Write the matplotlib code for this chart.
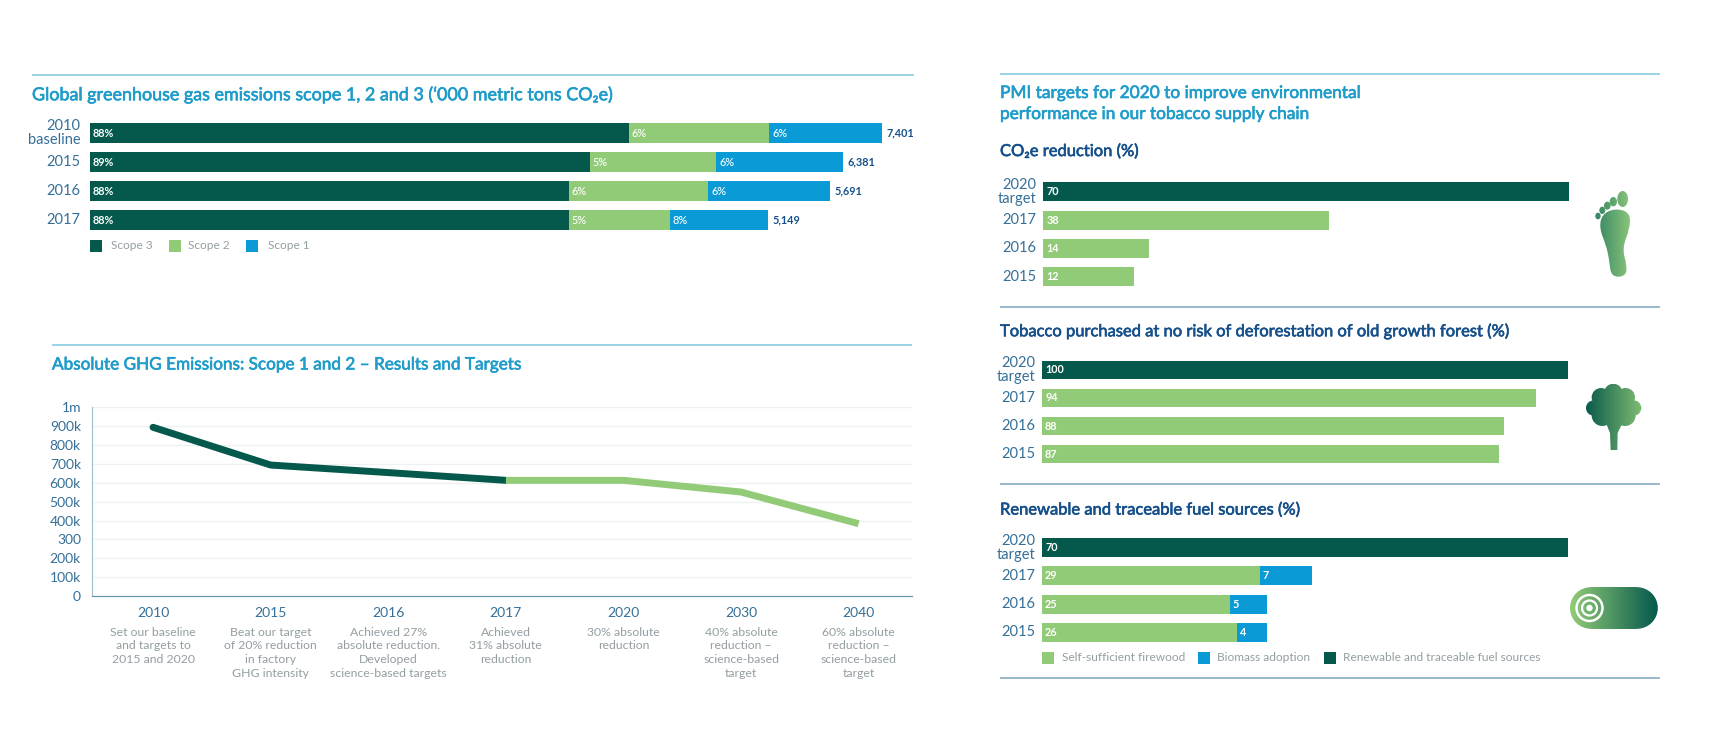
import numpy as np
import matplotlib
matplotlib.use('Agg')
import matplotlib.pyplot as plt
import matplotlib.patheffects as pe
from matplotlib.path import Path
from matplotlib.patches import PathPatch, Rectangle, Circle
from matplotlib.colors import LinearSegmentedColormap
from matplotlib.transforms import ScaledTranslation

W, H = 1732, 734
plt.rcParams['font.family'] = ['Lato', 'DejaVu Sans']

DARK = '#04594c'
GREEN = '#92cb78'
BLUE = '#0a9bd6'
TITLE = '#1f9cc9'
NAVY = '#16508a'
CAT = '#356f98'
GREY = '#939fa3'
RULE = '#7fc6e0'
RULE2 = '#7ea6c0'

# scope bars: lengths as drawn in the picture (chart is not to scale with totals)
scope_years = ['2010\nbaseline', '2015', '2016', '2017']
scope3_len = [5035, 4669, 4475, 4475]
scope2_len = [1314, 1186, 1303, 942]
scope1_len = [1053, 1182, 1142, 920]
scope3_pct = ['88%', '89%', '88%', '88%']
scope2_pct = ['6%', '5%', '6%', '5%']
scope1_pct = ['6%', '6%', '6%', '8%']
scope_totals = ['7,401', '6,381', '5,691', '5,149']

ghg_years = ['2010', '2015', '2016', '2017', '2020', '2030', '2040']
ghg_values = [894000, 694000, 654000, 613000, 613000, 551000, 383000]
ghg_ticks = [0, 100000, 200000, 300000, 400000, 500000, 600000, 700000, 800000, 900000, 1000000]
ghg_tick_labels = ['0', '100k', '200k', '300', '400k', '500k', '600k', '700k', '800k', '900k', '1m']
ghg_notes = ['Set our baseline\nand targets to\n2015 and 2020',
             'Beat our target\nof 20% reduction\nin factory\nGHG intensity',
             'Achieved 27%\nabsolute reduction.\nDeveloped\nscience-based targets',
             'Achieved\n31% absolute\nreduction',
             '30% absolute\nreduction',
             '40% absolute\nreduction \u2013\nscience-based\ntarget',
             '60% absolute\nreduction \u2013\nscience-based\ntarget']

target_years = ['2020\ntarget', '2017', '2016', '2015']
co2_values = [70, 38, 14, 12]
forest_values = [100, 94, 88, 87]
fuel_target = [70, 0, 0, 0]
fuel_firewood = [0, 29, 25, 26]
fuel_biomass = [0, 7, 5, 4]

fig = plt.figure(figsize=(W / 100, H / 100), dpi=100, facecolor='white')

# overlay in pixel coordinates, for rules, headings, legends and icons
page = fig.add_axes([0, 0, 1, 1], zorder=0)
page.set_xlim(0, W)
page.set_ylim(H, 0)
page.axis('off')


def px_axes(x0, y0, x1, y1):
    ax = fig.add_axes([x0 / W, 1 - y1 / H, (x1 - x0) / W, (y1 - y0) / H], zorder=2)
    ax.patch.set_alpha(0)
    return ax


def rule(x0, x1, y, color=RULE):
    page.plot([x0, x1], [y, y], color=color, lw=1.1, solid_capstyle='butt')


def heading(x, y, text, color, size):
    # the source face sits between Lato regular and bold, so thicken regular a little
    page.text(x, y, text, color=color, fontsize=size, va='center',
              path_effects=[pe.withStroke(linewidth=0.45, foreground=color)])


def bar_axes(x0, x1, first_center, pitch, xmax, labels, label_pad=5):
    top = first_center - pitch / 2
    ax = px_axes(x0, top, x1, top + pitch * len(labels))
    ax.set_xlim(0, xmax)
    ax.set_ylim(len(labels) - 0.5, -0.5)
    ax.set_yticks(range(len(labels)))
    ax.set_yticklabels(labels, fontsize=10.5, color=CAT, linespacing=1.0)
    ax.tick_params(axis='y', length=0, pad=label_pad)
    ax.set_xticks([])
    up = ScaledTranslation(0, 1.5 / 100, fig.dpi_scale_trans)
    for lab in ax.get_yticklabels():
        lab.set_transform(lab.get_transform() + up)
    for s in ax.spines.values():
        s.set_visible(False)
    return ax


def bar_labels(ax, bars, labels, weight='bold', size=7.8):
    for b, t in zip(bars, labels):
        if b.get_width() == 0:
            continue
        ax.annotate(t, (b.get_x(), b.get_y() + b.get_height() / 2), xytext=(2.2, 0),
                    textcoords='offset points', va='center', ha='left',
                    color='white', fontsize=size, fontweight=weight)


def legend_row(items, y):
    for x, x_text, color, label in items:
        page.add_patch(Rectangle((x, y - 6), 12, 12, facecolor=color, edgecolor='none'))
        page.text(x_text, y, label, color=GREY, fontsize=8.6, va='center', ha='left')


def gradient_fill(path, extent, colors):
    cmap = LinearSegmentedColormap.from_list('g', colors)
    img = page.imshow(np.linspace(0, 1, 256).reshape(1, -1), cmap=cmap, extent=extent,
                      aspect='auto', interpolation='bilinear', zorder=1)
    img.set_clip_path(PathPatch(path, transform=page.transData))


def smooth_path(pts):
    pts = np.array(pts, dtype=float)
    mids = (pts + np.roll(pts, -1, axis=0)) / 2
    verts = [mids[-1]]
    codes = [Path.MOVETO]
    for p, m in zip(pts, mids):
        verts += [p, m]
        codes += [Path.CURVE3, Path.CURVE3]
    return Path(verts, codes)


def ellipse_path(cx, cy, rx, ry):
    t = Path.unit_circle()
    return Path(t.vertices * [rx, ry] + [cx, cy], t.codes)


# ---------- headings and rules ----------
rule(32, 914, 75)
heading(32, 95, 'Global greenhouse gas emissions scope 1, 2 and 3 (\u2018000 metric tons CO\u2082e)', TITLE, 12.9)
rule(52, 912, 345)
heading(52, 364.5, 'Absolute GHG Emissions: Scope 1 and 2 \u2013 Results and Targets', TITLE, 12.35)
rule(1000, 1660, 74)
heading(1000, 93, 'PMI targets for 2020 to improve environmental', TITLE, 12.45)
heading(1000, 114, 'performance in our tobacco supply chain', TITLE, 12.45)
heading(1000, 151, 'CO\u2082e reduction (%)', NAVY, 11.9)
rule(1000, 1660, 306.7, RULE2)
heading(1000, 331, 'Tobacco purchased at no risk of deforestation of old growth forest (%)', NAVY, 11.9)
rule(1000, 1660, 484, RULE2)
heading(1000, 509.5, 'Renewable and traceable fuel sources (%)', NAVY, 11.9)
rule(1000, 1660, 678, RULE2)

# ---------- scope bars ----------
ax = bar_axes(90, 882, 133, 29, sum([5035, 1314, 1053]), scope_years, label_pad=7)
left = np.zeros(4)
for vals, color, pct in [(scope3_len, DARK, scope3_pct), (scope2_len, GREEN, scope2_pct), (scope1_len, BLUE, scope1_pct)]:
    bars = ax.barh(range(4), vals, left=left, height=19.5 / 29, color=color)
    bar_labels(ax, bars, pct, weight='medium' if color != DARK else 'bold')
    left += np.array(vals)
for i, t in enumerate(scope_totals):
    ax.annotate(t, (left[i], i), xytext=(3, 0), textcoords='offset points', va='center',
                color=NAVY, fontsize=7.8, fontweight='bold')
legend_row([(90, 111, DARK, 'Scope 3'), (169, 188.5, GREEN, 'Scope 2'), (246, 267.5, BLUE, 'Scope 1')], 245.5)

# ---------- GHG line ----------
ax = px_axes(92, 407.3, 911.6, 596)
x = np.arange(len(ghg_years))
ax.set_xlim(-0.519, 6.45)
ax.set_ylim(0, 1000000)
ax.set_yticks(ghg_ticks)
ax.set_yticklabels(ghg_tick_labels, fontsize=10, color=CAT)
ax.set_xticks(x)
ax.set_xticklabels(ghg_years, fontsize=10, color=CAT)
ax.tick_params(axis='y', length=0, pad=8)
ax.tick_params(axis='x', length=0, pad=8)
ax.grid(axis='y', color='#edf1f2', lw=1)
ax.set_axisbelow(True)
for s in ['top', 'right']:
    ax.spines[s].set_visible(False)
ax.spines['left'].set_color('#9dbccd')
ax.spines['bottom'].set_color('#5f8fae')
ax.plot(x[:4], ghg_values[:4], color=DARK, lw=5, solid_capstyle='round', solid_joinstyle='round')
ax.plot(x[3:], ghg_values[3:], color=GREEN, lw=5, solid_capstyle='butt', solid_joinstyle='round')
for xi, note in zip(x, ghg_notes):
    ax.annotate(note, (xi, 0), xytext=(0, -22), textcoords='offset points', ha='center', va='top',
                color=GREY, fontsize=8.8, linespacing=1.32)

# ---------- CO2e ----------
ax = bar_axes(1043.4, 1569.3, 191.8, 28.3, 70, target_years)
colors = [DARK, GREEN, GREEN, GREEN]
bars = ax.barh(range(4), co2_values, height=19 / 28.3, color=colors)
bar_labels(ax, bars, [str(v) for v in co2_values])

# ---------- forest ----------
ax = bar_axes(1042, 1567.5, 369.8, 28.15, 100, target_years)
bars = ax.barh(range(4), forest_values, height=18 / 28.15, color=colors)
bar_labels(ax, bars, [str(v) for v in forest_values])

# ---------- fuel ----------
ax = bar_axes(1042, 1567.5, 547.8, 28.2, 70, target_years)
bars = ax.barh(range(4), fuel_target, height=19 / 28.2, color=DARK)
bar_labels(ax, bars, [str(v) for v in fuel_target])
bars = ax.barh(range(4), fuel_firewood, height=19 / 28.2, color=GREEN)
bar_labels(ax, bars, [str(v) for v in fuel_firewood])
bars = ax.barh(range(4), fuel_biomass, left=fuel_firewood, height=19 / 28.2, color=BLUE)
bar_labels(ax, bars, [str(v) for v in fuel_biomass])
legend_row([(1042, 1061.5, GREEN, 'Self-sufficient firewood'),
            (1197.5, 1217, BLUE, 'Biomass adoption'),
            (1323.5, 1343, DARK, 'Renewable and traceable fuel sources')], 657.5)

# ---------- icons ----------
foot_ext = (1590, 1632, 284, 186)
foot_cols = ['#267a5e', '#8fc97c']


def foot(xz, yz):
    return 1580 + xz / 3, 185 + yz / 3


sole = smooth_path([foot(*p) for p in [(105, 70), (150, 82), (150, 130), (126, 190), (142, 245), (135, 275),
                                       (93, 275), (88, 225), (78, 180), (58, 130), (66, 88)]])
gradient_fill(sole, foot_ext, foot_cols)
for xz, yz, rx, ry in [(128, 42, 16, 24), (100, 50, 11, 14), (82, 62, 10, 12), (67, 76, 9, 11), (54, 93, 8, 10)]:
    cx, cy = foot(xz, yz)
    gradient_fill(ellipse_path(cx, cy, rx / 3, ry / 3), foot_ext, foot_cols)

tree_ext = (1586, 1642, 450, 384)
tree_cols = ['#0b5b4b', '#7fbc72']


def tree(xz, yz):
    return 1575 + xz / 3, 378 + yz / 3


for xz, yz, r in [(115, 44, 27), (78, 58, 28), (152, 58, 28), (56, 90, 23), (176, 90, 23),
                  (82, 112, 32), (150, 112, 32), (115, 85, 58)]:
    cx, cy = tree(xz, yz)
    gradient_fill(ellipse_path(cx, cy, r / 3, r / 3), tree_ext, tree_cols)
gradient_fill(Path([tree(*p) for p in [(95, 140), (105, 165), (107, 216), (127, 216), (128, 165), (140, 140), (117, 130), (95, 140)]]),
              tree_ext, tree_cols)

roll_ext = (1570, 1658, 629, 587)
roll_cols = ['#92cb78', '#04594c']
gradient_fill(ellipse_path(1590.8, 608, 20.8, 20.8), roll_ext, roll_cols)
gradient_fill(ellipse_path(1637, 608, 20.8, 20.8), roll_ext, roll_cols)
gradient_fill(Path([(1590.8, 587.2), (1637, 587.2), (1637, 628.8), (1590.8, 628.8), (1590.8, 587.2)]), roll_ext, roll_cols)
page.add_patch(Circle((1589.5, 608), 13, facecolor='none', edgecolor='white', lw=1.8, zorder=3))
page.add_patch(Circle((1589.5, 608), 7.5, facecolor='none', edgecolor='white', lw=1.6, zorder=3))
page.add_patch(Circle((1589.5, 608), 3.2, facecolor='white', edgecolor='none', zorder=3))

page.set_xlim(0, W)
page.set_ylim(H, 0)

fig.savefig('out.png', dpi=100)
